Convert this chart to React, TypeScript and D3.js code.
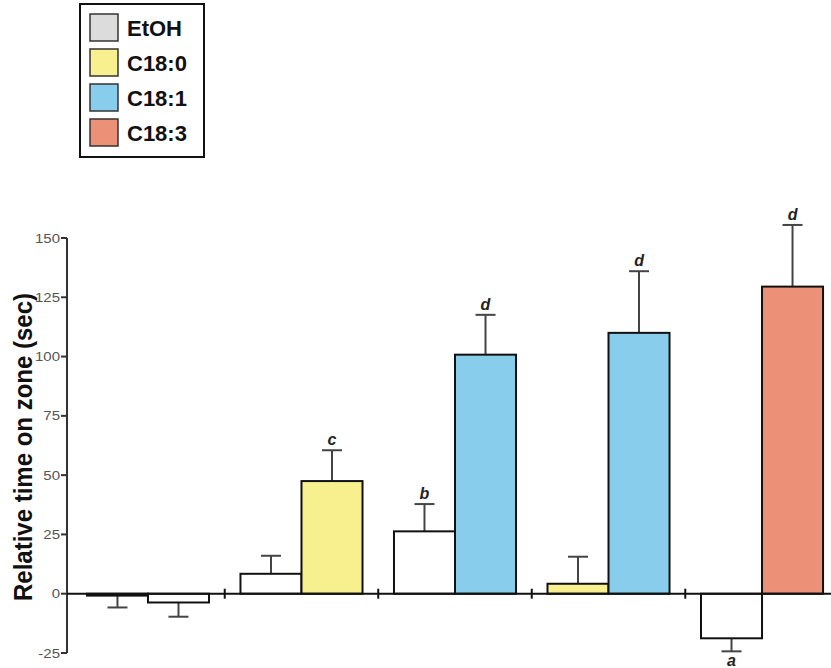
import React from "react";
import * as d3 from "d3";

const groups = ["G1", "G2", "G3", "G4", "G5"];
const leftTreatment = ["EtOH", "EtOH", "EtOH", "C18:0", "EtOH"];
const leftMean = [-0.8, 8.4, 26.3, 4.2, -18.8];
const leftErr = [5.0, 7.6, 11.5, 11.4, 5.5];
const leftLetter = ["", "", "b", "", "a"];
const rightTreatment = ["EtOH", "C18:0", "C18:1", "C18:1", "C18:3"];
const rightMean = [-3.7, 47.5, 100.8, 110, 129.5];
const rightErr = [6.0, 13.0, 16.8, 26.0, 26.0];
const rightLetter = ["", "c", "d", "d", "d"];
const yTicks = [-25, 0, 25, 50, 75, 100, 125, 150];
const legendItems = ["EtOH", "C18:0", "C18:1", "C18:3"];

const fillColor: Record<string, string> = {
  EtOH: "#ffffff",
  "C18:0": "#f8f08f",
  "C18:1": "#89cdec",
  "C18:3": "#ec9177",
};
const legendColor: Record<string, string> = {
  EtOH: "#dcdcdc",
  "C18:0": "#f8f08f",
  "C18:1": "#89cdec",
  "C18:3": "#ec9177",
};

export default function App() {
  const W = 831, H = 668;
  const axisX = 67;
  const y = d3.scaleLinear().domain([-25, 150]).range([653, 238]);
  const x = d3
    .scaleBand<string>()
    .domain(groups)
    .range([axisX, 843])
    .paddingInner(0.205)
    .paddingOuter(0.13);
  const bw = x.bandwidth() / 2;
  const step = x.step();
  const gap = step - x.bandwidth();
  const font = "Arial, 'Liberation Sans', sans-serif";

  const bars: any[] = [];
  groups.forEach((g, i) => {
    bars.push({ x0: x(g)!, mean: leftMean[i], err: leftErr[i], t: leftTreatment[i], letter: leftLetter[i], key: g + "L" });
    bars.push({ x0: x(g)! + bw, mean: rightMean[i], err: rightErr[i], t: rightTreatment[i], letter: rightLetter[i], key: g + "R" });
  });

  return (
    <svg width={W} height={H} style={{ position: "absolute", left: 0, top: 0 }} fontFamily={font}>
      {/* legend */}
      <rect x={80} y={4} width={124} height={153} fill="#fff" stroke="#111" strokeWidth={2} />
      {legendItems.map((t, i) => (
        <g key={t} transform={`translate(90,${14 + i * 35})`}>
          <rect x={0} y={0} width={28} height={27} fill={legendColor[t]} stroke="#333" strokeWidth={1.5} />
          <text x={37} y={22} fontSize={22} fontWeight="bold" fill="#111">{t}</text>
        </g>
      ))}

      {/* y axis */}
      <line x1={axisX} x2={axisX} y1={y(150)} y2={y(-25)} stroke="#333" strokeWidth={2} />
      {yTicks.map((t) => (
        <g key={t}>
          <line x1={axisX - 6} x2={axisX} y1={y(t)} y2={y(t)} stroke="#333" strokeWidth={2} />
          <text
            transform={`translate(60,${y(t) + 4.5}) scale(1.25,1)`}
            fontSize={12}
            textAnchor="end"
            fill="#555"
          >
            {t}
          </text>
        </g>
      ))}
      <text
        transform={`translate(32,447) rotate(-90) scale(1,1.1)`}
        textAnchor="middle"
        fontSize={24}
        fontWeight="bold"
        fill="#111"
      >
        Relative time on zone (sec)
      </text>

      {/* bars */}
      {bars.map((b) => {
        const top = y(Math.max(0, b.mean));
        const bot = y(Math.min(0, b.mean));
        const end = b.mean >= 0 ? y(b.mean + b.err) : y(b.mean - b.err);
        const cx = b.x0 + bw / 2;
        const barEdge = b.mean >= 0 ? top : bot;
        return (
          <g key={b.key}>
            <line x1={cx} x2={cx} y1={barEdge} y2={end} stroke="#444" strokeWidth={2} />
            <line x1={cx - 10} x2={cx + 10} y1={end} y2={end} stroke="#444" strokeWidth={2} />
            <rect x={b.x0} y={top} width={bw} height={Math.max(bot - top, 1)} fill={fillColor[b.t]} stroke="#111" strokeWidth={2} />
            {b.letter && (
              <text
                x={cx}
                y={b.mean >= 0 ? end - 5 : end + 15}
                textAnchor="middle"
                fontSize={16}
                fontWeight="bold"
                fontStyle="italic"
                fill="#222"
              >
                {b.letter}
              </text>
            )}
          </g>
        );
      })}

      {/* zero line and group separators */}
      <line x1={axisX} x2={W} y1={y(0)} y2={y(0)} stroke="#111" strokeWidth={2} />
      {groups.slice(1).map((g) => {
        const sx = x(g)! - gap / 2;
        return <line key={g} x1={sx} x2={sx} y1={y(0) - 5} y2={y(0) + 5} stroke="#111" strokeWidth={2} />;
      })}
    </svg>
  );
}
